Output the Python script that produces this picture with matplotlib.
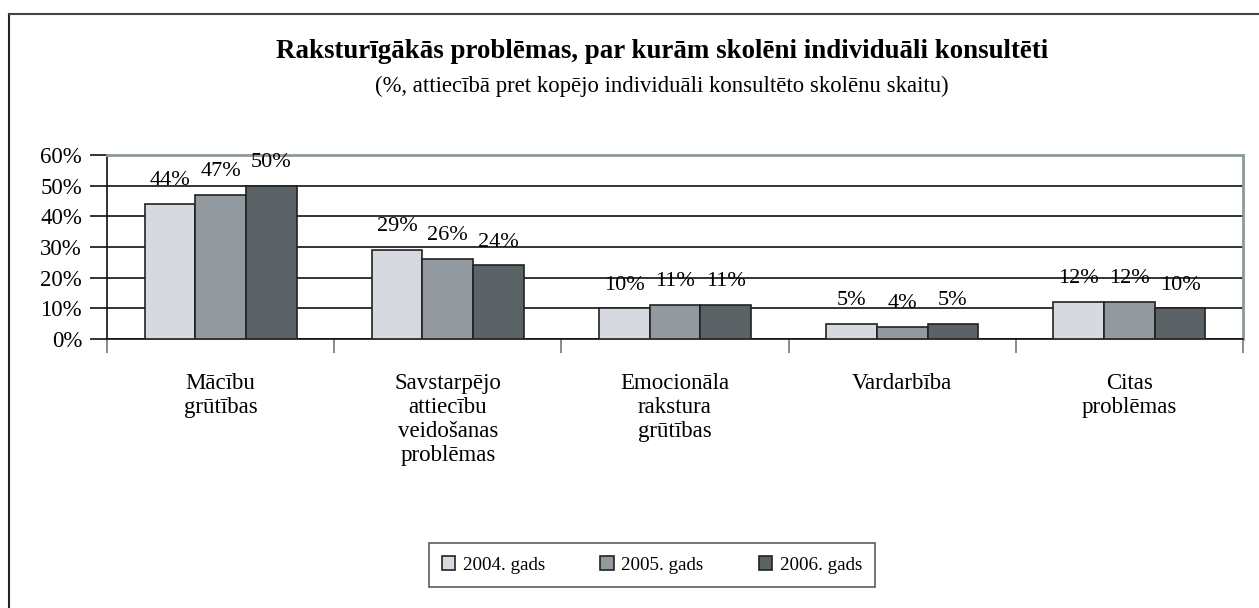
import matplotlib.pyplot as plt
from matplotlib.lines import Line2D
import numpy as np

plt.rcParams['font.family'] = ['Liberation Serif', 'DejaVu Serif']

# dati
kategorijas = ['Mācību\ngrūtības', 'Savstarpējo\nattiecību\nveidošanas\nproblēmas',
               'Emocionāla\nrakstura\ngrūtības', 'Vardarbība', 'Citas\nproblēmas']
gadi = ['2004. gads', '2005. gads', '2006. gads']
v2004 = [44, 29, 10, 5, 12]
v2005 = [47, 26, 11, 4, 12]
v2006 = [50, 24, 11, 5, 10]
krasas = ['#d6d9df', '#939a9f', '#5c6366']

fig = plt.figure(figsize=(12.59, 6.08), dpi=100)
ax = fig.add_axes([0.085, 0.4424, 0.9023, 0.3026])

x = np.arange(len(kategorijas))
w = 0.223
for i, (vals, c, g) in enumerate(zip([v2004, v2005, v2006], krasas, gadi)):
    pos = x + (i - 1) * w
    ax.bar(pos, vals, w, color=c, edgecolor='#222222', linewidth=1.2, label=g, zorder=3)
    for p, v in zip(pos, vals):
        ax.text(p, v + 4.5, f'{v}%', ha='center', va='bottom', fontsize=16, zorder=4)

ax.set_xlim(-0.5, len(kategorijas) - 0.5)
ax.set_ylim(0, 60)
ax.set_yticks(range(0, 61, 10))
ax.set_yticklabels([f'{t}%' for t in range(0, 61, 10)], fontsize=16.5)
ax.yaxis.grid(True, color='#111111', linewidth=1.2, zorder=0)
ax.tick_params(axis='y', length=12, width=1.2, color='#111111', pad=6)

# ticks between categories
ax.set_xticks(np.arange(-0.5, len(kategorijas), 1))
ax.set_xticklabels([])
ax.tick_params(axis='x', length=10, width=1.2, color='#777777', direction='out')
for xi, k in zip(x, kategorijas):
    ax.text(xi, -11, k, ha='center', va='top', fontsize=16.5, linespacing=1.2)

ax.spines['left'].set_color('#111111')
ax.spines['left'].set_linewidth(1.2)
ax.spines['bottom'].set_color('#111111')
ax.spines['bottom'].set_linewidth(1.2)
ax.spines['top'].set_color('#8f989c')
ax.spines['top'].set_linewidth(2)
ax.spines['right'].set_color('#8f989c')
ax.spines['right'].set_linewidth(2)

fig.text(662 / 1259, 1 - 52 / 608, 'Raksturīgākās problēmas, par kurām skolēni individuāli konsultēti',
         ha='center', va='center', fontsize=19.4, fontweight='bold')
fig.text(662 / 1259, 1 - 86 / 608, '(%, attiecībā pret kopējo individuāli konsultēto skolēnu skaitu)',
         ha='center', va='center', fontsize=16.4)

leg = fig.legend(loc='center', bbox_to_anchor=(652 / 1259, 1 - 565 / 608), ncol=3,
                 fontsize=13.7, frameon=True, fancybox=False, edgecolor='#333333',
                 handlelength=0.7, handleheight=0.7, columnspacing=2.9, handletextpad=0.4,
                 borderpad=0.7)
leg.get_frame().set_linewidth(1.2)

# figure border (top and left)
fig.add_artist(Line2D([9 / 1259, 9 / 1259], [0, 1 - 14 / 608], transform=fig.transFigure,
                      color='#222222', linewidth=1.5))
fig.add_artist(Line2D([9 / 1259, 1], [1 - 14 / 608, 1 - 14 / 608], transform=fig.transFigure,
                      color='#444444', linewidth=1.5))

fig.savefig('out.png', dpi=100)
